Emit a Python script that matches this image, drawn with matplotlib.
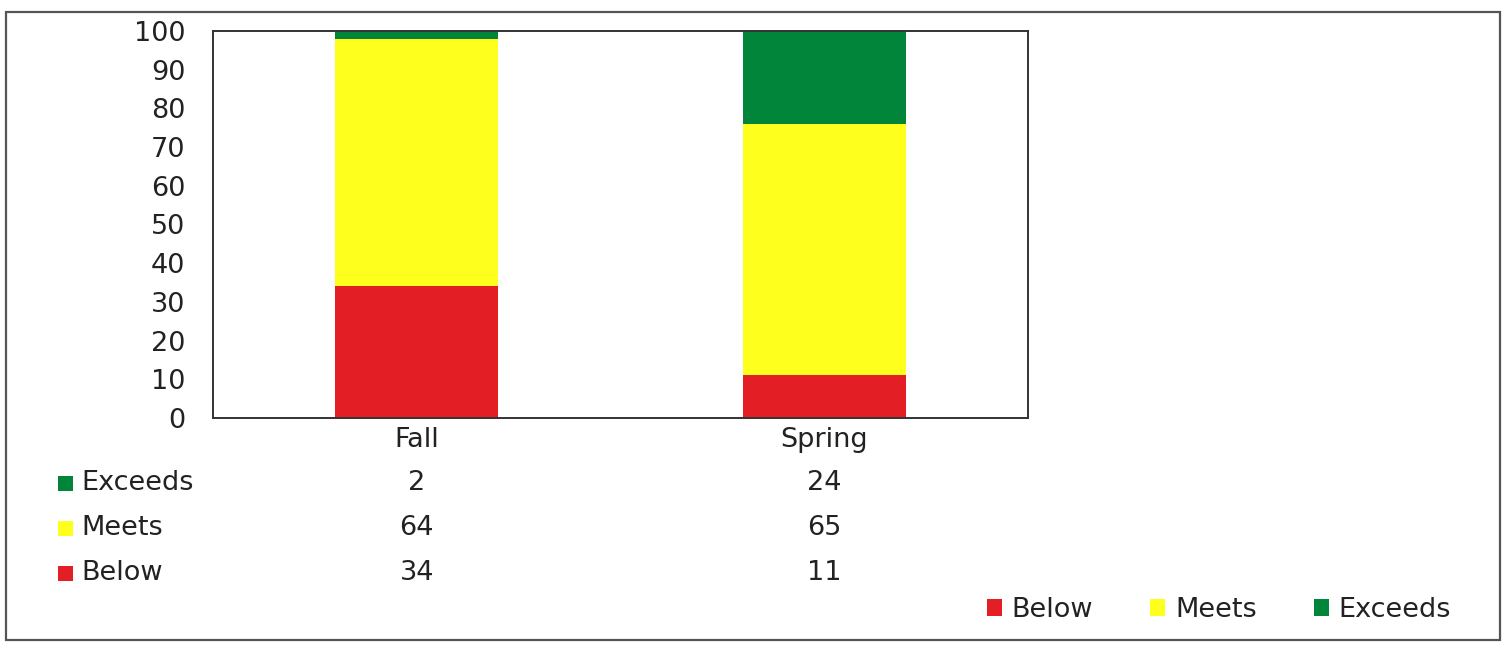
import matplotlib
matplotlib.use("Agg")
import matplotlib.pyplot as plt
from matplotlib.patches import Rectangle, Patch
from matplotlib.transforms import blended_transform_factory

plt.rcParams['font.family'] = ['DejaVu Sans']

# data
categories = ['Fall', 'Spring']
below = [34, 11]
meets = [64, 65]
exceeds = [2, 24]
series_names = ['Below', 'Meets', 'Exceeds']
colors = {'Below': '#e31e24', 'Meets': '#ffff1e', 'Exceeds': '#00853a'}
text_color = '#222222'
fs = 19.5

fig = plt.figure(figsize=(15.02, 6.46), dpi=100)
W, H = 1502, 646

# outer border like the exported chart frame
fig.add_artist(Rectangle((6 / W, 1 - 640 / H), 1494 / W, 628 / H,
                         transform=fig.transFigure, fill=False,
                         edgecolor='#555555', lw=1.6))

ax = fig.add_axes([213 / W, 1 - 418 / H, 815 / W, 387 / H])
x = list(range(len(categories)))
width = 0.4
bottoms2 = [b + m for b, m in zip(below, meets)]
ax.bar(x, below, width, color=colors['Below'])
ax.bar(x, meets, width, bottom=below, color=colors['Meets'])
ax.bar(x, exceeds, width, bottom=bottoms2, color=colors['Exceeds'])

ax.set_xlim(-0.5, 1.5)
ax.set_ylim(0, 100)
ax.set_yticks(range(0, 101, 10))
ax.set_xticks([])
ax.tick_params(axis='y', length=0, pad=20, labelsize=fs, labelcolor=text_color)
for s in ax.spines.values():
    s.set_color('#333333')
    s.set_linewidth(1.4)

# data table under the chart
tr = blended_transform_factory(ax.transData, ax.transAxes)
def ypos(py):
    return (418 - py) / 387

for i, c in enumerate(categories):
    ax.text(i, ypos(440), c, transform=tr, ha='center', va='center',
            fontsize=fs, color=text_color)

rows = [('Exceeds', exceeds, 483), ('Meets', meets, 528), ('Below', below, 573)]
for name, vals, py in rows:
    fig.add_artist(Rectangle((58 / W, 1 - (py + 8) / H), 15 / W, 15 / H,
                             transform=fig.transFigure, color=colors[name], lw=0))
    fig.text(81 / W, 1 - py / H, name, ha='left', va='center',
             fontsize=fs, color=text_color)
    for i, v in enumerate(vals):
        ax.text(i, ypos(py), str(v), transform=tr, ha='center', va='center',
                fontsize=fs, color=text_color)

handles = [Patch(facecolor=colors[n], edgecolor='none', label=n) for n in series_names]
fig.legend(handles=handles, loc='center', bbox_to_anchor=(1219 / W, 1 - 610 / H),
           ncol=3, frameon=False, fontsize=fs, handlelength=0.55, handleheight=0.55,
           handletextpad=0.37, columnspacing=2.1, labelcolor=text_color)

fig.savefig('out.png', dpi=100)
